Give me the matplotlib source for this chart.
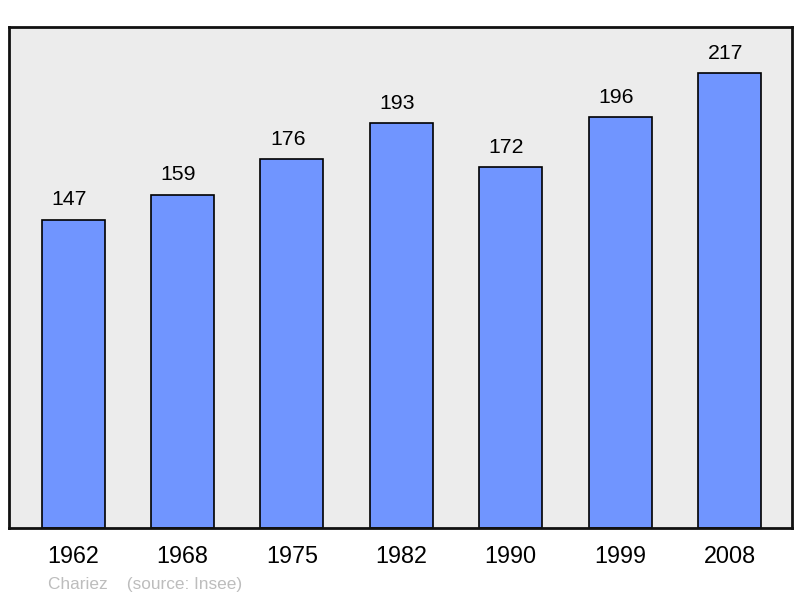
import matplotlib.pyplot as plt

plt.rcParams['font.family'] = ['Liberation Sans', 'DejaVu Sans']

years = ["1962", "1968", "1975", "1982", "1990", "1999", "2008"]
population = [147, 159, 176, 193, 172, 196, 217]

fig = plt.figure(figsize=(8, 5.98), dpi=100)
ax = fig.add_axes([9/800, 70/598, 783/800, 501/598])
ax.set_facecolor("#ececec")

x = range(len(years))
bars = ax.bar(x, population, width=0.576, color="#7095ff", edgecolor="black", linewidth=1.2, zorder=2)
for xi, v in zip(x, population):
    ax.annotate(str(v), (xi, v), xytext=(-3, 7.5), textcoords="offset points",
                ha="center", va="bottom", fontsize=15.3)

ax.set_xlim(-0.585, 6.57)
ax.set_ylim(0, 239)
ax.set_yticks([])
ax.set_xticks(list(x))
ax.set_xticklabels(years, fontsize=16.8)
ax.tick_params(axis="x", length=0, pad=12)
for s in ax.spines.values():
    s.set_linewidth(2)
    s.set_color("#111111")

fig.text(48/800, 1 - 584/598, "Chariez    (source: Insee)", fontsize=12.4, color="#bdbdbd", va="center")

fig.savefig("out.png", dpi=100)
